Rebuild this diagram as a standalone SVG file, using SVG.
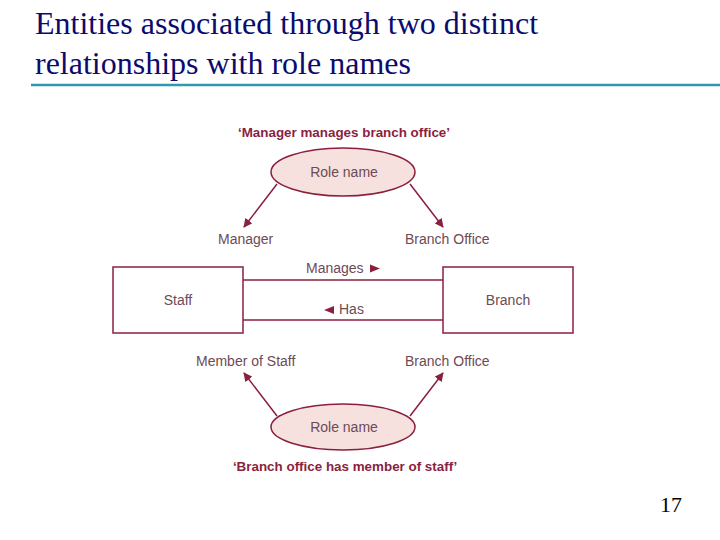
<svg xmlns="http://www.w3.org/2000/svg" width="720" height="540" viewBox="0 0 720 540">
<style>
.title{font-family:"Liberation Serif",serif;font-size:32px;fill:#0b0b6e}
.lbl{font-family:"Liberation Sans",Arial,sans-serif;font-size:14px;fill:#6e4a55}
.cap{font-family:"Liberation Sans",Arial,sans-serif;font-size:13.4px;font-weight:bold;fill:#8a1f3e}
.ent{fill:#ffffff;stroke:#8a1f3e;stroke-width:1.5}
.ell{fill:#f6e1de;stroke:#8a1f3e;stroke-width:1.5}
.ln{stroke:#8a1f3e;stroke-width:1.5;fill:none}
.tri{fill:#8a1f3e}
</style>
<defs>
<marker id="ah" viewBox="0 0 10 10" refX="9" refY="5" markerWidth="9" markerHeight="9" markerUnits="userSpaceOnUse" orient="auto">
<path d="M0,0 L10,5 L0,10 z" fill="#8a1f3e"/>
</marker>
</defs>
<rect width="720" height="540" fill="#ffffff"/>
<text class="title" x="35" y="34">Entities associated through two distinct</text>
<text class="title" x="35" y="74">relationships with role names</text>
<line x1="31" y1="85" x2="720" y2="85" stroke="#2e9ab0" stroke-width="2.5"/>

<g id="connectors">
<line class="ln" x1="277" y1="184" x2="244" y2="227" marker-end="url(#ah)"/>
<line class="ln" x1="410" y1="184" x2="443" y2="227" marker-end="url(#ah)"/>
<line class="ln" x1="277" y1="416" x2="244" y2="373" marker-end="url(#ah)"/>
<line class="ln" x1="410" y1="416" x2="443" y2="373" marker-end="url(#ah)"/>
<g id="rel-manages">
<line class="ln" x1="243" y1="280" x2="443" y2="280"/>
<text class="lbl" x="306" y="273">Manages</text>
<path class="tri" d="M370,264.5 L380,268.5 L370,272.5 z"/>
</g>
<g id="rel-has">
<line class="ln" x1="243" y1="320" x2="443" y2="320"/>
<path class="tri" d="M334,306 L324,310 L334,314 z"/>
<text class="lbl" x="339" y="314">Has</text>
</g>
</g>

<g id="staff">
<rect class="ent" x="113" y="267" width="130" height="66"/>
<text class="lbl" x="178" y="305" text-anchor="middle">Staff</text>
</g>
<g id="branch">
<rect class="ent" x="443" y="267" width="130" height="66"/>
<text class="lbl" x="508" y="305" text-anchor="middle">Branch</text>
</g>

<g id="role-top">
<text class="cap" x="344" y="137" text-anchor="middle">‘Manager manages branch office’</text>
<ellipse class="ell" cx="343" cy="172" rx="72" ry="24"/>
<text class="lbl" x="344" y="177" text-anchor="middle">Role name</text>
<text class="lbl" x="218" y="244">Manager</text>
<text class="lbl" x="405" y="244">Branch Office</text>
</g>

<g id="role-bottom">
<text class="lbl" x="196" y="366">Member of Staff</text>
<text class="lbl" x="405" y="366">Branch Office</text>
<ellipse class="ell" cx="343" cy="427" rx="72" ry="23"/>
<text class="lbl" x="344" y="432" text-anchor="middle">Role name</text>
<text class="cap" x="345" y="471" text-anchor="middle">‘Branch office has member of staff’</text>
</g>

<text x="660" y="512" font-family="Liberation Serif,serif" font-size="22" fill="#000000">17</text>
</svg>
